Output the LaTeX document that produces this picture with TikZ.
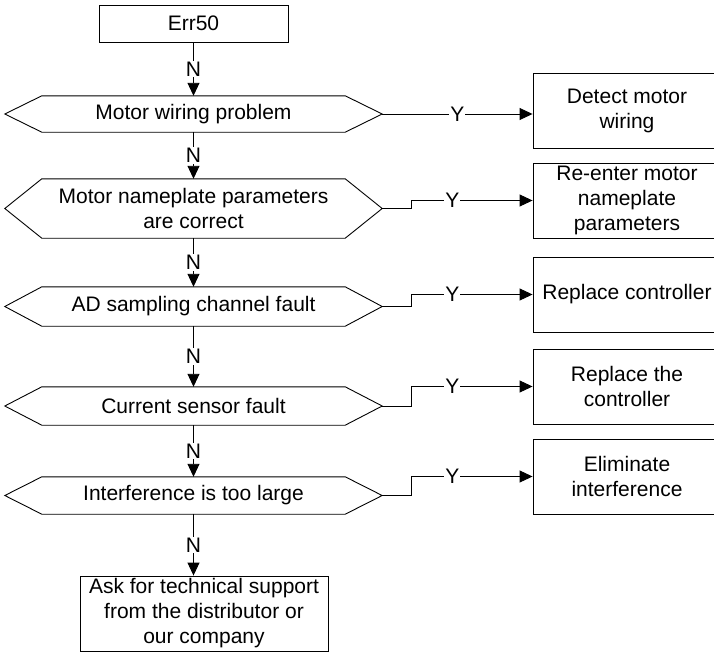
\documentclass[tikz,border=0pt]{standalone}
\usepackage{fontspec}
\setmainfont{Liberation Sans}
\usepackage{tikz}
\usetikzlibrary{arrows.meta, calc}

\begin{document}
\begin{tikzpicture}[x=1pt, y=-1pt,
  every node/.style={font=\fontsize{21}{25}\selectfont},
  line/.style={line width=0.9pt},
  flow/.style={line, -{Triangle[length=13pt, width=12pt]}},
  procbox/.style={draw, line width=0.9pt, align=center, inner sep=0pt,
                  minimum width=188pt, minimum height=75pt},
  decision/.style={align=center, inner sep=0pt, minimum width=377pt},
  lbl/.style={fill=white, inner sep=1pt}]
  \useasboundingbox (0,0) rectangle (714,653);

  % start
  \node[procbox, minimum width=189pt, minimum height=37pt] (err) at (193.5, 23.5) {Err50};

  % checks
  \node[decision, minimum height=36pt] (h1) at (193.5, 114) {Motor wiring problem};
  \node[decision, minimum height=59pt] (h2) at (193.5, 208.5) {Motor nameplate parameters\\are correct};
  \node[decision, minimum height=39pt] (h3) at (193.5, 306.5) {AD sampling channel fault};
  \node[decision, minimum height=38pt] (h4) at (193.5, 406) {Current sensor fault};
  \node[decision, minimum height=37pt] (h5) at (193.5, 495.5) {Interference is too large};
  \foreach \n in {h1,h2,h3,h4,h5}
    \draw[line] (\n.west) -- ([xshift=37pt]\n.north west) -- ([xshift=-37pt]\n.north east)
      -- (\n.east) -- ([xshift=-37pt]\n.south east) -- ([xshift=37pt]\n.south west) -- cycle;

  % actions
  \node[procbox] (b1) at (627, 110.5) {Detect motor\\wiring};
  \node[procbox] (b2) at (627, 200.5) {Re-enter motor\\nameplate\\parameters};
  \node[procbox] (b3) at (627, 294.5) {Replace controller};
  \node[procbox] (b4) at (627, 386.5) {Replace the\\controller};
  \node[procbox] (b5) at (627, 476.5) {Eliminate\\interference};
  \node[procbox, minimum width=248pt] (fin) at (204, 613.5)
    {Ask for technical support\\from the distributor or\\our company};

  % N branches
  \draw[flow] (err.south) -- node[lbl] {N} (h1.north);
  \draw[flow] (h1.south) -- node[lbl] {N} (h2.north);
  \draw[flow] (h2.south) -- node[lbl] {N} (h3.north);
  \draw[flow] (h3.south) -- node[lbl] {N} (h4.north);
  \draw[flow] (h4.south) -- node[lbl] {N} (h5.north);
  \draw[flow] (h5.south) -- node[lbl] {N} (h5.south |- fin.north);

  % Y branches
  \draw[flow] (h1.east) -- node[lbl] {Y} (h1.east -| b1.west);
  \foreach \i in {2,3,4,5}
    \draw[flow] (h\i.east) -- ++(29,0) |- node[lbl, pos=0.67] {Y} (b\i.west);
\end{tikzpicture}
\end{document}
